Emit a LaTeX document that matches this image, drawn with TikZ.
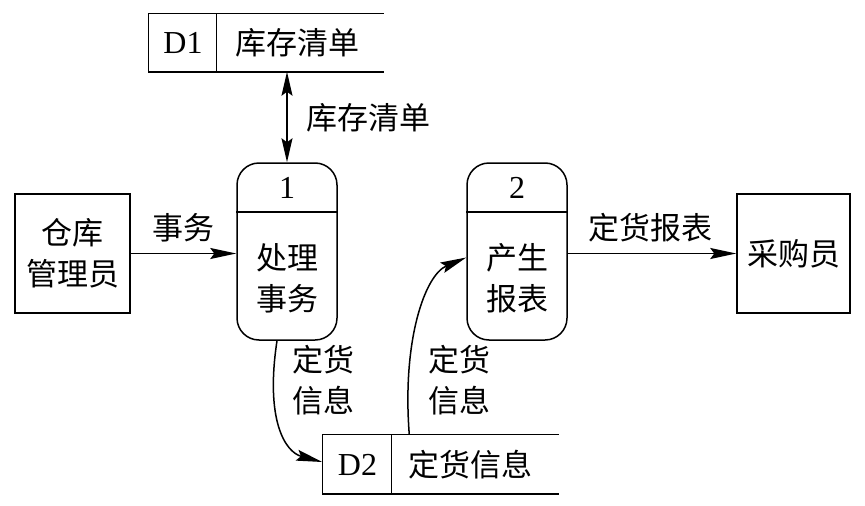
\documentclass[tikz,border=0pt]{standalone}
\usepackage{fontspec}
\setmainfont{Liberation Serif}
\newfontfamily\cjk{Noto Sans CJK SC}
\usetikzlibrary{arrows.meta,calc}
\begin{document}
\begin{tikzpicture}[x=1pt,y=-1pt,
  line width=1.5pt,
  arr/.style={-{Stealth[length=26pt,width=11pt,inset=4pt]}},
  darr/.style={{Stealth[length=24pt,width=11pt,inset=4pt]}-{Stealth[length=24pt,width=11pt,inset=4pt]}},
  txt/.style={inner sep=0pt,align=center,font=\cjk\fontsize{31}{41}\selectfont},
  lat/.style={inner sep=0pt,font=\fontsize{32}{36}\selectfont},
  entity/.style={draw,minimum width=115pt,minimum height=119pt,inner sep=0pt,align=center,font=\cjk\fontsize{31}{41}\selectfont},
  proc/.style={draw,rounded corners=22pt,minimum width=100pt,minimum height=177pt,inner sep=0pt},
  storebox/.style={minimum width=234pt,minimum height=57pt,inner sep=0pt}
]
\useasboundingbox (0,0) rectangle (865,506);

% entities
\node[entity] (e1) at (72.5,253.5) {仓库\\管理员};
\node[entity,minimum width=113pt] (e2) at (793.5,253.5) {采购员};

% processes
\node[proc] (p1) at (287,251.5) {};
\node[proc] (p2) at (517,251.5) {};
\draw (p1.west |- 0,212) coordinate (p1l) -- (p1.east |- 0,212) coordinate (p1r);
\draw (p2.west |- 0,212) coordinate (p2l) -- (p2.east |- 0,212) coordinate (p2r);
\node[lat] (p1n) at (287,188) {1};
\node[lat] (p2n) at (517,188) {2};
\node[txt] (p1t) at (287,278) {处理\\事务};
\node[txt] (p2t) at (517,278) {产生\\报表};

% data stores
\node[storebox] (d1) at (266,42.5) {};
\draw (d1.north east) -- (d1.north west) -- (d1.south west) -- (d1.south east);
\draw ($(d1.north west)+(68,0)$) coordinate (d1a) -- ($(d1.south west)+(68,0)$) coordinate (d1b);
\node[lat] (d1n) at (183,43) {D1};
\node[txt] (d1t) at (297,43) {库存清单};

\node[storebox,minimum width=235pt,minimum height=58pt] (d2) at (440.5,464) {};
\draw (d2.north east) -- (d2.north west) -- (d2.south west) -- (d2.south east);
\draw ($(d2.north west)+(69,0)$) coordinate (d2a) -- ($(d2.south west)+(69,0)$) coordinate (d2b);
\node[lat] (d2n) at (357.5,465) {D2};
\node[txt] (d2t) at (470,465) {定货信息};

% flows
\draw[darr] (d1.south -| p1.north) -- (p1.north);
\node[txt] (l1) at (368,118) {库存清单};

\draw[arr] (e1.east) -- (p1.west |- e1.east);
\node[txt] (l2) at (183,228) {事务};

\draw[arr] (p2.east |- e2.west) -- (e2.west);
\node[txt] (l3) at (650,228) {定货报表};

\coordinate (c1s) at ($(p1.south)+(-10,0)$);
\coordinate (c1e) at ($(d2.west)+(0,-2)$);
\draw[arr] (c1s) .. controls (265,420) and (285,452) .. (c1e);
\node[txt] (l4) at (323,380) {定货\\信息};

\coordinate (c2s) at ($(d2a)+(18,0)$);
\coordinate (c2e) at ($(p2.west)+(0,6)$);
\draw[arr] (c2s) .. controls (402,340) and (425,275) .. (c2e);
\node[txt] (l5) at (459,380) {定货\\信息};
\end{tikzpicture}
\end{document}
